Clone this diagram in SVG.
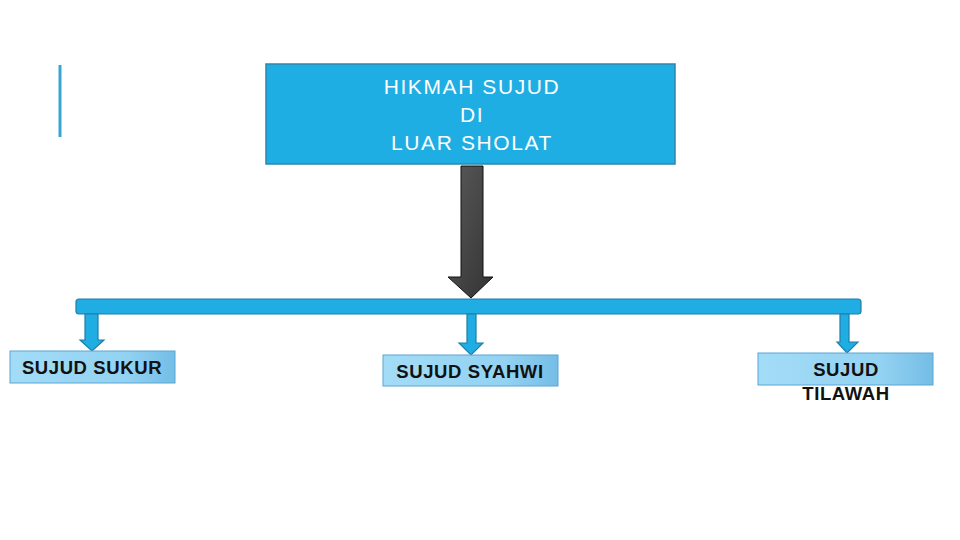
<svg xmlns="http://www.w3.org/2000/svg" width="960" height="540" viewBox="0 0 960 540">
<defs>
<linearGradient id="gray" x1="0" y1="0" x2="1" y2="1">
<stop offset="0" stop-color="#5a5a5a"/>
<stop offset="1" stop-color="#333"/>
</linearGradient>
<linearGradient id="light" x1="0" y1="0" x2="1" y2="0">
<stop offset="0" stop-color="#a3dcf7"/>
<stop offset="0.7" stop-color="#93d2f2"/>
<stop offset="1" stop-color="#74bde6"/>
</linearGradient>
<style>
.top{fill:#1eaee3;stroke:#2c86ad;stroke-width:1.5}
.toptxt{font-family:"Liberation Sans",Arial,sans-serif;font-size:21px;fill:#fff;text-anchor:middle;letter-spacing:1.6px}
.sub{fill:url(#light);stroke:#5aa6d4;stroke-width:1}
.subtxt{font-family:"Liberation Sans",Arial,sans-serif;font-size:18.5px;font-weight:bold;fill:#111;text-anchor:middle;letter-spacing:0.6px}
.blue{fill:#1fade4;stroke:#1f7fa6;stroke-width:1.2}
</style>
</defs>
<rect width="960" height="540" fill="#fff"/>
<line x1="60" y1="65" x2="60" y2="137" stroke="#3aa6d0" stroke-width="3"/>
<g id="connectors">
<path d="M461,166 H483 V277 H493 L471,298 L448,277 H461 Z" fill="url(#gray)" stroke="#111" stroke-width="1"/>
<rect class="blue" x="76" y="299" width="785" height="15" rx="3"/>
<path class="blue" d="M85,314 H98 V340 H104 L92,351 L80,340 H85 Z"/>
<path class="blue" d="M467,314 H476 V343 H483 L471,355 L459,343 H467 Z"/>
<path class="blue" d="M840,314 H849 V342 H858 L847,353 L837,342 H840 Z"/>
</g>
<g id="root">
<rect class="top" x="266" y="64" width="409" height="100"/>
<text class="toptxt" x="472" y="94">HIKMAH SUJUD</text>
<text class="toptxt" x="472" y="122">DI</text>
<text class="toptxt" x="472" y="150">LUAR SHOLAT</text>
</g>
<g id="sukur">
<rect class="sub" x="10" y="351" width="165" height="32"/>
<text class="subtxt" x="92" y="374">SUJUD SUKUR</text>
</g>
<g id="syahwi">
<rect class="sub" x="383" y="355" width="175" height="31"/>
<text class="subtxt" x="470" y="378">SUJUD SYAHWI</text>
</g>
<g id="tilawah">
<rect class="sub" x="758" y="353" width="175" height="32"/>
<text class="subtxt" x="846" y="376">SUJUD</text>
<text class="subtxt" x="846" y="400">TILAWAH</text>
</g>
</svg>
